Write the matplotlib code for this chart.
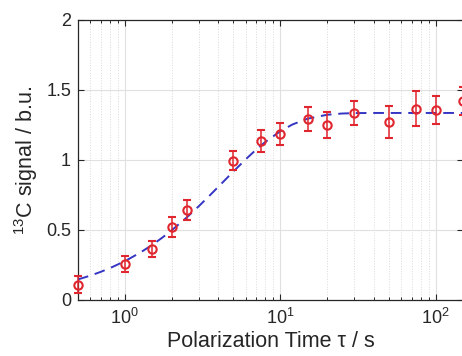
import matplotlib
matplotlib.use("Agg")
import matplotlib.pyplot as plt
from matplotlib.ticker import LogLocator, NullFormatter, LogFormatterSciNotation

plt.rcParams['font.family'] = ['Liberation Sans', 'DejaVu Sans']
plt.rcParams['mathtext.fontset'] = 'custom'
plt.rcParams['mathtext.rm'] = 'Liberation Sans'
plt.rcParams['mathtext.it'] = 'Liberation Sans:italic'

# Measured data
time_s = [0.5, 1, 1.5, 2, 2.5, 5, 7.5, 10, 15, 20, 30, 50, 75, 100, 150]
signal = [0.11, 0.255, 0.365, 0.52, 0.645, 0.995, 1.135, 1.185, 1.29, 1.25, 1.335, 1.27, 1.365, 1.355, 1.42]
signal_err = [0.06, 0.057, 0.06, 0.07, 0.072, 0.068, 0.08, 0.078, 0.085, 0.095, 0.088, 0.115, 0.125, 0.1, 0.1]

# Fit curve
fit_t = [0.5, 0.6, 0.7, 0.8, 1.0, 1.25, 1.5, 1.75, 2, 2.5, 3, 3.5, 4, 5, 6, 7, 8, 10, 12, 15, 20, 25, 30, 40, 60, 100, 150]
fit_y = [0.147, 0.174, 0.201, 0.227, 0.277, 0.337, 0.393, 0.447, 0.497, 0.589, 0.671, 0.744, 0.809, 0.918,
         1.005, 1.074, 1.128, 1.205, 1.254, 1.295, 1.323, 1.332, 1.335, 1.336, 1.336, 1.336, 1.336]

x_label = 'Polarization Time τ / s'
y_label = r'$^{13}$C signal / b.u.'
y_ticks = [0, 0.5, 1, 1.5, 2]
y_ticklabels = ['0', '0.5', '1', '1.5', '2']

fig = plt.figure(figsize=(4.62, 3.56), dpi=100)
ax = fig.add_axes([78/462, 56/356, 385/462, 280/356])

ax.set_xscale('log')
ax.set_xlim(0.5, 150)
ax.set_ylim(0, 2)

ax.grid(True, which='major', axis='both', color='#e0e0e0', linewidth=0.8, linestyle='-')
ax.grid(True, which='minor', axis='x', color='#d9d9d9', linewidth=0.7, linestyle=':')
ax.set_axisbelow(True)

ax.plot(fit_t, fit_y, linestyle=(0, (5.5, 3.5)), color='#3535c4', linewidth=1.4, zorder=3)
ax.errorbar(time_s, signal, yerr=signal_err, fmt='o', color='#e0262e', ecolor='#e0262e',
            markersize=6, markerfacecolor='none', markeredgewidth=1.5, elinewidth=1.1,
            capsize=3, capthick=1.1, zorder=4, clip_on=False)

ax.set_yticks(y_ticks)
ax.set_yticklabels(y_ticklabels)
ax.xaxis.set_major_locator(LogLocator(base=10, numticks=10))
ax.xaxis.set_major_formatter(LogFormatterSciNotation())
ax.xaxis.set_minor_locator(LogLocator(base=10, subs=range(2, 10), numticks=20))
ax.xaxis.set_minor_formatter(NullFormatter())

ax.tick_params(which='both', direction='in', top=True, right=True, colors='#262626',
               labelcolor='#262626', labelsize=13)
ax.tick_params(which='major', length=4, width=0.8)
ax.tick_params(which='minor', length=2.5, width=0.7)
ax.tick_params(axis='x', pad=6)
ax.tick_params(axis='y', pad=5)
for s in ax.spines.values():
    s.set_color('#262626')
    s.set_linewidth(0.9)

ax.set_xlabel(x_label, fontsize=15.5, color='#262626', labelpad=2)
ax.set_ylabel(y_label, fontsize=15.5, color='#262626', labelpad=4)

fig.savefig('out.png', dpi=100)
